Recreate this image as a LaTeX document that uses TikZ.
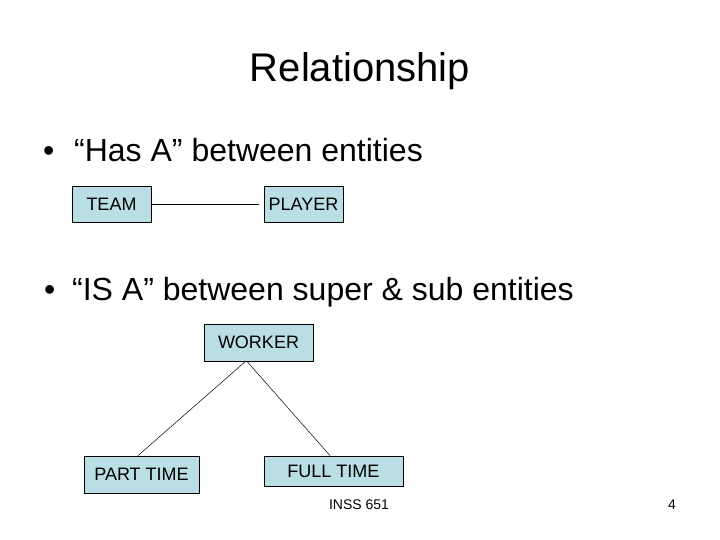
\documentclass[tikz,border=0pt]{standalone}
\usepackage{fontspec}
\setmainfont{Liberation Sans}
\definecolor{boxfill}{RGB}{185,222,228}
\begin{document}
\begin{tikzpicture}[x=1pt,y=-1pt,
  entity/.style={draw=black, line width=0.8pt, fill=boxfill, inner sep=0pt, font=\fontsize{18}{20}\selectfont},
  conn/.style={draw=black, line width=0.5pt},
  bullettext/.style={anchor=base west, inner sep=0pt, font=\fontsize{32}{36}\selectfont},
  foot/.style={anchor=base, inner sep=0pt, font=\fontsize{14}{16}\selectfont}]
\useasboundingbox (0,0) rectangle (720,540);
\node[anchor=base, inner sep=0pt, font=\fontsize{40}{44}\selectfont] (title) at (360,82) {Relationship};
\node[bullettext] (b1) at (43,162) {\makebox[31pt][l]{\textbullet}“Has A” between entities};
\node[bullettext] (b2) at (44,300) {\makebox[28pt][l]{\textbullet}“IS A” between super \& sub entities};
\node[entity, minimum width=79pt, minimum height=36pt] (team) at (111.5,204) {TEAM};
\node[entity, minimum width=79pt, minimum height=36pt] (player) at (303.5,204) {PLAYER};
\draw[conn, shorten >=5pt] (team.east) -- (player.west);
\node[entity, minimum width=109pt, minimum height=37pt] (worker) at (258.5,342.5) {WORKER};
\node[entity, minimum width=115pt, minimum height=37pt] (part) at (141.5,474.5) {PART TIME};
\node[entity, minimum width=139pt, minimum height=30pt] (full) at (333.5,471) {FULL TIME};
\draw[conn] ([xshift=-13pt]worker.south) -- ([xshift=-3.5pt]part.north);
\draw[conn] ([xshift=-11.5pt]worker.south) -- ([xshift=-3.5pt]full.north);
\node[foot] (course) at (359,509) {INSS 651};
\node[foot] (page) at (672,509) {4};
\end{tikzpicture}
\end{document}
